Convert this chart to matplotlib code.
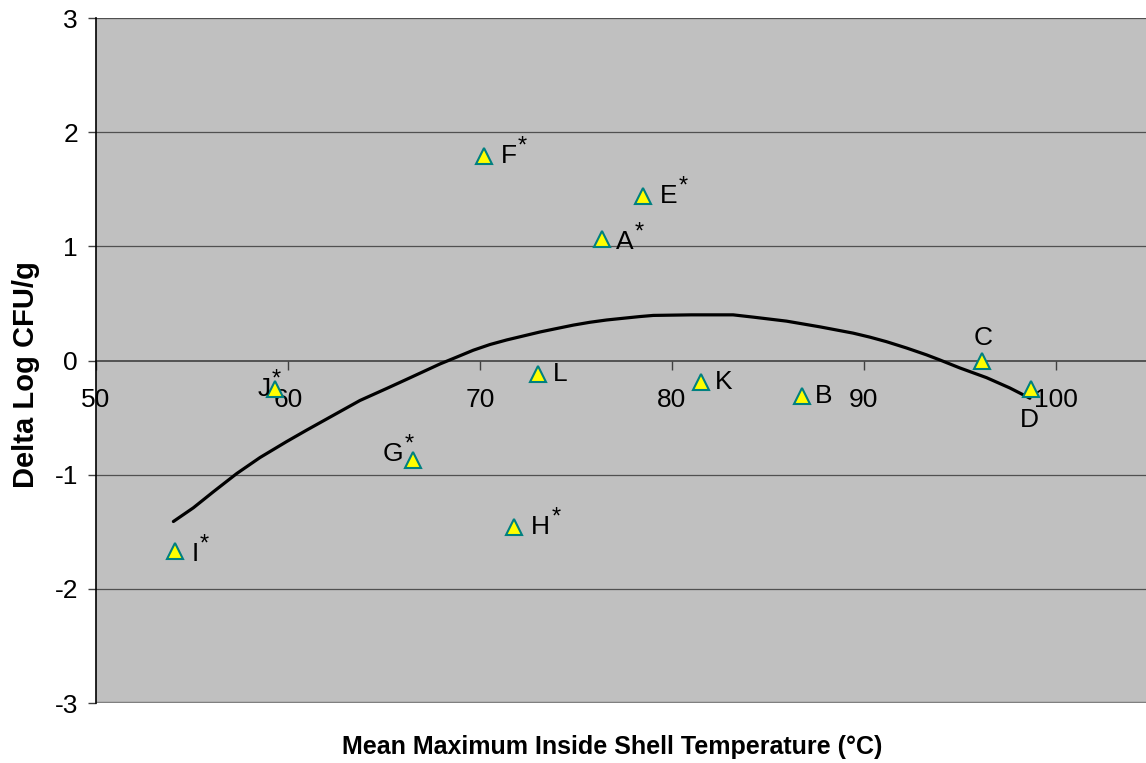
import numpy as np
import matplotlib.pyplot as plt

plt.rcParams['font.family'] = ['Liberation Sans', 'DejaVu Sans']
plt.rcParams['axes.unicode_minus'] = False

# trial results: mean max inside-shell temperature vs change in log CFU/g
labels = ['I', 'J', 'G', 'F', 'H', 'L', 'A', 'E', 'K', 'B', 'C', 'D']
starred = [True, True, True, True, True, False, True, True, False, False, False, False]
temp = [54.1, 59.3, 66.5, 70.2, 71.8, 73.0, 76.35, 78.5, 81.5, 86.8, 96.15, 98.7]
delta = [-1.67, -0.25, -0.87, 1.79, -1.46, -0.12, 1.06, 1.44, -0.19, -0.31, 0.0, -0.25]

# trend line
trend_x = [54.03, 55.07, 56.11, 57.33, 58.54, 59.93, 60.97, 62.36, 63.75, 65.14,
           66.18, 67.92, 68.79, 69.65, 70.52, 71.39, 72.26, 73.13, 73.99, 74.86,
           75.73, 76.60, 77.46, 78.33, 79.03, 81.00, 83.19, 84.24, 85.97, 87.71,
           89.44, 90.31, 91.18, 92.22, 93.26, 93.96, 95.00, 96.39, 97.60, 98.65]
trend_y = [-1.41, -1.29, -1.15, -0.99, -0.85, -0.71, -0.61, -0.48, -0.35, -0.245,
           -0.165, -0.03, 0.03, 0.09, 0.14, 0.18, 0.215, 0.25, 0.28, 0.31,
           0.335, 0.355, 0.37, 0.385, 0.395, 0.40, 0.40, 0.38, 0.345, 0.295,
           0.24, 0.205, 0.165, 0.11, 0.05, 0.005, -0.065, -0.15, -0.24, -0.33]

# where each point label sits: (dx, dy) in points, ha, va
label_pos = {
    'I': (12, -2, 'left', 'center'), 'J': (-3, 0, 'right', 'center'),
    'G': (-7, 4, 'right', 'center'), 'F': (12, 0, 'left', 'center'),
    'H': (12, 0, 'left', 'center'), 'L': (11, 0, 'left', 'center'),
    'A': (10, -2, 'left', 'center'), 'E': (12, 0, 'left', 'center'),
    'K': (10, 0, 'left', 'center'), 'B': (9, 0, 'left', 'center'),
    'C': (1, 16, 'center', 'center'), 'D': (-1, -22, 'center', 'center'),
}

fig = plt.figure(figsize=(11.46, 7.63), dpi=100)
ax = fig.add_axes([0.0838, 0.0786, 0.9162, 0.8978])
ax.set_facecolor('#c0c0c0')

ax.set_xlim(50, 104.7)
ax.set_ylim(-3, 3)
ax.set_yticks(range(-3, 4))
ax.set_xticks(range(50, 101, 10))

for yv in [-2, -1, 1, 2, 3]:
    ax.axhline(yv, color='#505050', lw=0.9, zorder=1)
ax.axhline(-3, color='#808080', lw=2.5, zorder=1)

ax.spines['top'].set_visible(False)
ax.spines['right'].set_visible(False)
ax.spines['left'].set_color('black')
ax.spines['left'].set_linewidth(1.2)
ax.spines['bottom'].set_position(('data', 0))
ax.spines['bottom'].set_color('#404040')
ax.spines['bottom'].set_linewidth(1.2)
ax.spines['bottom'].set_zorder(2)

ax.tick_params(axis='x', direction='out', length=6.5, width=1, color='#404040',
               pad=13, labelsize=19)
ax.tick_params(axis='y', direction='out', length=6, width=1, color='#404040',
               pad=7, labelsize=19)

ax.plot(trend_x, trend_y, color='black', lw=2.3, zorder=3,
        solid_capstyle='round', solid_joinstyle='round')
ax.plot(temp, delta, linestyle='none', marker='^', markersize=11.5,
        markerfacecolor='#ffff00', markeredgecolor='#008080', markeredgewidth=1.5,
        zorder=4, clip_on=False)

fig.canvas.draw()
px = fig.dpi / 72.0
for name, star, xv, yv in zip(labels, starred, temp, delta):
    dx, dy, ha, va = label_pos[name]
    t = ax.annotate(name, (xv, yv), xytext=(dx, dy), textcoords='offset points',
                    ha=ha, va=va, fontsize=19, zorder=5)
    if star:
        # small asterisk raised above the top-right of the letter
        fig.canvas.draw()
        bb = t.get_window_extent()
        xd, yd = ax.transData.inverted().transform((bb.x1 + 1 * px, bb.y1 - 6 * px))
        ax.annotate('*', (xd, yd), ha='left', va='baseline', fontsize=17, zorder=5)

ax.set_xlabel('Mean Maximum Inside Shell Temperature (°C)', fontsize=18,
              fontweight='bold', va='center')
ax.xaxis.set_label_coords(0.492, -0.064)
ax.set_ylabel('Delta Log CFU/g', fontsize=21, fontweight='bold', va='center')
ax.yaxis.set_label_coords(-0.0667, 0.48)

fig.savefig('out.png', dpi=100)
